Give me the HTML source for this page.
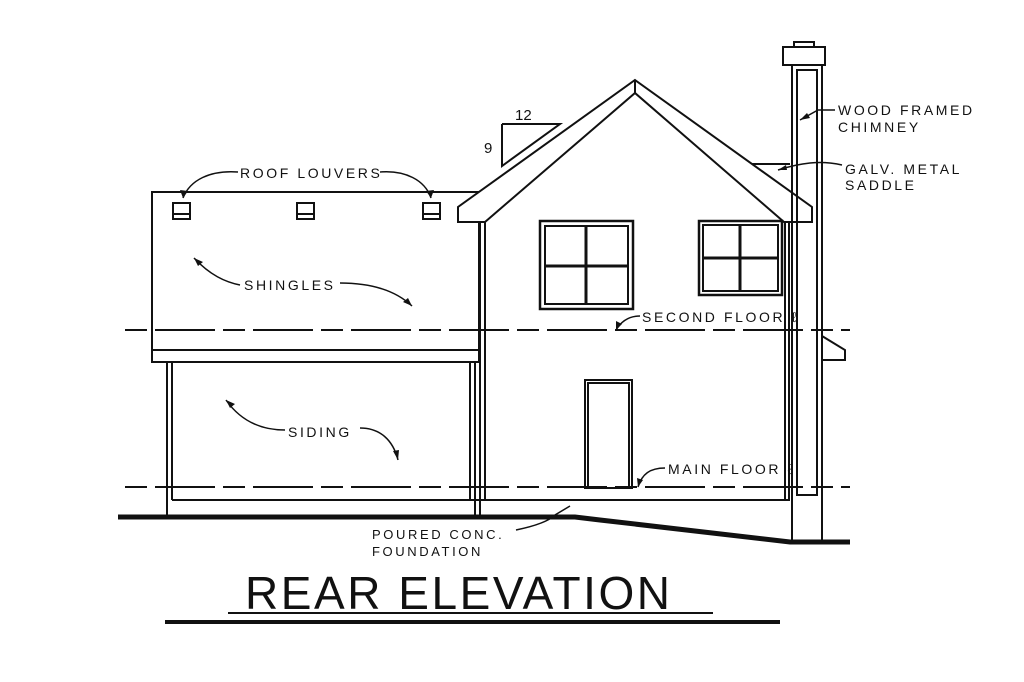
<!DOCTYPE html>
<html><head><meta charset="utf-8"><style>
html,body{margin:0;padding:0;background:#fff;}
svg{display:block;}
text{font-family:"Liberation Sans",sans-serif;fill:#111;}
.l{font-size:14px;letter-spacing:2.6px;}
</style></head><body>
<svg width="1024" height="682" viewBox="0 0 1024 682" xmlns="http://www.w3.org/2000/svg">
<g fill="none" stroke="#111" stroke-width="2">
<rect x="152" y="192" width="327" height="170"/>
<line x1="152" y1="350" x2="479" y2="350"/>
<rect x="173" y="203" width="17" height="16"/><line x1="173" y1="214" x2="190" y2="214"/>
<rect x="297" y="203" width="17" height="16"/><line x1="297" y1="214" x2="314" y2="214"/>
<rect x="423" y="203" width="17" height="16"/><line x1="423" y1="214" x2="440" y2="214"/>
<line x1="167" y1="362" x2="167" y2="517"/><line x1="172" y1="362" x2="172" y2="500"/>
<line x1="475" y1="362" x2="475" y2="517"/><line x1="470" y1="362" x2="470" y2="500"/>
<line x1="172" y1="500" x2="790" y2="500"/>
<polygon points="635,80 812,207 812,222 784,222 635,93 485,222 458,222 458,207" fill="#fff"/>
<line x1="635" y1="80" x2="635" y2="93"/>
<line x1="480" y1="222" x2="480" y2="517"/><line x1="485" y1="222" x2="485" y2="500"/>
<line x1="785" y1="222" x2="785" y2="500"/><line x1="789" y1="222" x2="789" y2="500"/>
<rect x="540" y="221" width="93" height="88" stroke-width="2.5"/><rect x="545" y="226" width="83" height="78"/>
<line x1="586" y1="226" x2="586" y2="304" stroke-width="3"/><line x1="545" y1="266" x2="628" y2="266" stroke-width="3"/>
<rect x="699" y="221" width="83" height="74" stroke-width="2.5"/><rect x="703" y="225" width="75" height="66"/>
<line x1="740" y1="225" x2="740" y2="291" stroke-width="3"/><line x1="703" y1="258" x2="778" y2="258" stroke-width="3"/>
<rect x="585" y="380" width="47" height="108"/><rect x="588" y="383" width="41" height="105"/>
<rect x="794" y="42" width="20" height="5"/>
<rect x="783" y="47" width="42" height="18"/>
<line x1="792" y1="65" x2="792" y2="542"/><line x1="822" y1="65" x2="822" y2="542"/>
<rect x="797" y="70" width="20" height="425"/>
<line x1="752" y1="164" x2="790" y2="164"/>
<polyline points="822,336 845,350 845,360 822,360"/>
<polyline points="502,124 560,124 502,166 502,124"/>
<polyline points="118,517 575,517 600,520 790,542 850,542" stroke-width="5"/>
<line x1="125" y1="330" x2="850" y2="330" stroke-dasharray="22,8,60,8"/>
<line x1="125" y1="487" x2="850" y2="487" stroke-dasharray="22,8,60,8"/>
<path d="M238,172 C210,170 190,180 183,198" stroke-width="1.5"/>
<path d="M380,172 C405,170 425,180 431,198" stroke-width="1.5"/>
<path d="M240,285 C225,282 210,275 194,258" stroke-width="1.5"/>
<path d="M340,283 C370,283 395,290 412,306" stroke-width="1.5"/>
<path d="M285,430 C260,430 240,420 226,400" stroke-width="1.5"/>
<path d="M360,428 C380,428 393,440 398,460" stroke-width="1.5"/>
<path d="M640,316 C630,316 622,320 616,330" stroke-width="1.5"/>
<path d="M665,468 C650,468 642,474 638,487" stroke-width="1.5"/>
<path d="M835,110 L818,110 L800,120" stroke-width="1.5"/>
<path d="M842,165 C820,160 800,163 778,170" stroke-width="1.5"/>
<path d="M516,530 C540,525 550,520 555,515 L570,506" stroke-width="1.5"/>
<line x1="228" y1="613" x2="713" y2="613" stroke-width="2"/>
<line x1="165" y1="622" x2="780" y2="622" stroke-width="4"/>
</g>
<g fill="#111">
<polygon points="183,198 180,190 188,191"/>
<polygon points="431,198 426,191 434,190"/>
<polygon points="194,258 203,262 198,266"/>
<polygon points="412,306 403,302 408,298"/>
<polygon points="226,400 235,404 230,408"/>
<polygon points="398,460 393,451 399,450"/>
<polygon points="616,330 616,321 622,324"/>
<polygon points="638,487 637,478 643,480"/>
<polygon points="800,120 807,113 810,118"/>
<polygon points="778,170 786,165 787,170"/>
</g>
<text x="515" y="120" font-size="15">12</text>
<text x="484" y="153" font-size="15">9</text>
<text class="l" x="240" y="178">ROOF LOUVERS</text>
<text class="l" x="244" y="290">SHINGLES</text>
<text class="l" x="288" y="437">SIDING</text>
<text class="l" x="642" y="322">SECOND FLOOR ℓ</text>
<text class="l" x="668" y="474">MAIN FLOOR ℓ</text>
<text class="l" x="838" y="115">WOOD FRAMED</text>
<text class="l" x="838" y="132">CHIMNEY</text>
<text class="l" x="845" y="174">GALV. METAL</text>
<text class="l" x="845" y="190">SADDLE</text>
<text class="l" x="372" y="539" style="font-size:13px">POURED CONC.</text>
<text class="l" x="372" y="556" style="font-size:13px">FOUNDATION</text>
<text x="245" y="609" font-size="46" textLength="425" lengthAdjust="spacing">REAR ELEVATION</text>
</svg>
</body></html>
